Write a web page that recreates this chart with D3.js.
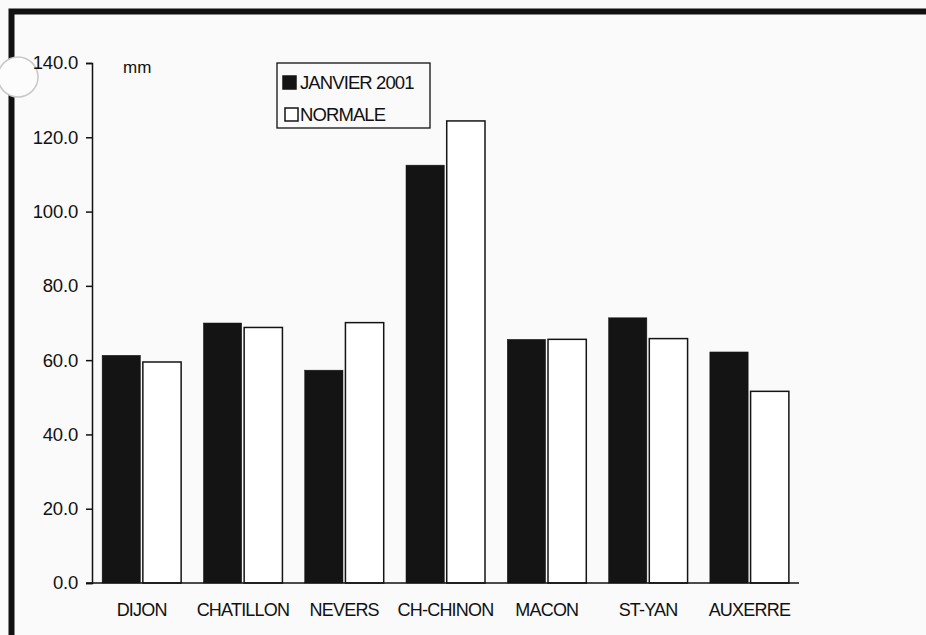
<!DOCTYPE html>
<html>
<head>
<meta charset="utf-8">
<script src="https://cdn.jsdelivr.net/npm/d3@7"></script>
<style>
  html, body { margin: 0; padding: 0; background: #fafafa; }
  svg { display: block; font-family: "Liberation Sans", Arial, sans-serif; }
</style>
</head>
<body>
<div id="chart"></div>
<script>
// Données : précipitations (mm)
const stations = ["DIJON", "CHATILLON", "NEVERS", "CH-CHINON", "MACON", "ST-YAN", "AUXERRE"];
const janvier2001 = [61.3, 70.0, 57.3, 112.5, 65.6, 71.4, 62.2];
const normale = [59.5, 68.8, 70.1, 124.4, 65.6, 65.8, 51.6];
const yTicks = [0, 20, 40, 60, 80, 100, 120, 140];
const seriesNames = ["JANVIER 2001", "NORMALE"];

const width = 926, height = 635;
const margin = { left: 92, right: 127, top: 63, bottom: 52 };

const svg = d3.select("#chart").append("svg")
    .attr("width", width)
    .attr("height", height);

// fond
svg.append("rect").attr("width", width).attr("height", height).attr("fill", "#fafafa");

// cadre épais (coupé à droite et en bas par le scan)
svg.append("path")
    .attr("d", `M11.5,${height + 10} L11.5,11.5 L${width + 10},11.5`)
    .attr("fill", "none")
    .attr("stroke", "#111")
    .attr("stroke-width", 6);

// trou de perforation
svg.append("circle")
    .attr("cx", 18).attr("cy", 77).attr("r", 20)
    .attr("fill", "#fcfcfc")
    .attr("stroke", "#c8c8c8")
    .attr("stroke-width", 1.5);

// Échelles
const x = d3.scaleBand()
    .domain(stations)
    .range([margin.left, width - margin.right])
    .paddingInner(0.22)
    .paddingOuter(0.1);

const xInner = d3.scaleBand()
    .domain(seriesNames)
    .range([0, x.bandwidth()])
    .paddingInner(0.06);

const y = d3.scaleLinear()
    .domain([0, 140])
    .range([height - margin.bottom, margin.top]);

const g = svg.append("g");

// Barres
const rows = stations.map((s, i) => ({ station: s, values: [janvier2001[i], normale[i]] }));

const groups = g.selectAll("g.grp")
    .data(rows)
    .enter().append("g")
    .attr("class", "grp")
    .attr("transform", d => `translate(${x(d.station)},0)`);

groups.selectAll("rect")
    .data(d => d.values.map((v, k) => ({ serie: seriesNames[k], v: v })))
    .enter().append("rect")
    .attr("x", d => xInner(d.serie))
    .attr("y", d => y(d.v))
    .attr("width", xInner.bandwidth())
    .attr("height", d => y(0) - y(d.v))
    .attr("fill", d => d.serie === "NORMALE" ? "#ffffff" : "#141414")
    .attr("stroke", "#141414")
    .attr("stroke-width", d => d.serie === "NORMALE" ? 1.5 : 0.5);

// Axe Y
const yAxis = d3.axisLeft(y)
    .tickValues(yTicks)
    .tickFormat(d3.format(".1f"))
    .tickSize(6)
    .tickPadding(8);

const gy = svg.append("g")
    .attr("transform", `translate(${margin.left},0)`)
    .call(yAxis);
gy.select(".domain").attr("stroke", "#111").attr("stroke-width", 1.5);
gy.selectAll(".tick line").attr("stroke", "#111").attr("stroke-width", 1.5);
gy.selectAll(".tick text")
    .attr("fill", "#111")
    .style("font-size", "18.5px")
    .style("letter-spacing", "-0.2px");

// Axe X
const xAxis = d3.axisBottom(x).tickSize(0).tickPadding(20);
const gx = svg.append("g")
    .attr("transform", `translate(0,${y(0)})`)
    .call(xAxis);
gx.select(".domain")
    .attr("d", `M${margin.left - 6},0H${width - margin.right}`)
    .attr("stroke", "#111")
    .attr("stroke-width", 1.5);
gx.selectAll(".tick text")
    .attr("fill", "#111")
    .style("font-size", "18px")
    .style("letter-spacing", "-0.8px");

// unité
svg.append("text")
    .attr("x", 123).attr("y", 73)
    .attr("fill", "#111")
    .style("font-size", "17px")
    .text("mm");

// Légende
const leg = svg.append("g").attr("transform", "translate(277,63)");
leg.append("rect")
    .attr("width", 153).attr("height", 65)
    .attr("fill", "none")
    .attr("stroke", "#111")
    .attr("stroke-width", 1.3);

seriesNames.forEach((name, i) => {
    const ly = 13 + i * 32;
    leg.append("rect")
        .attr("x", i === 0 ? 6 : 8).attr("y", ly)
        .attr("width", 13).attr("height", 13)
        .attr("fill", i === 0 ? "#141414" : "#fff")
        .attr("stroke", "#141414")
        .attr("stroke-width", 1.5);
    leg.append("text")
        .attr("x", 23).attr("y", ly + 13)
        .attr("fill", "#111")
        .style("font-size", "18.5px")
        .style("letter-spacing", "-0.9px")
        .text(name);
});
</script>
</body>
</html>
